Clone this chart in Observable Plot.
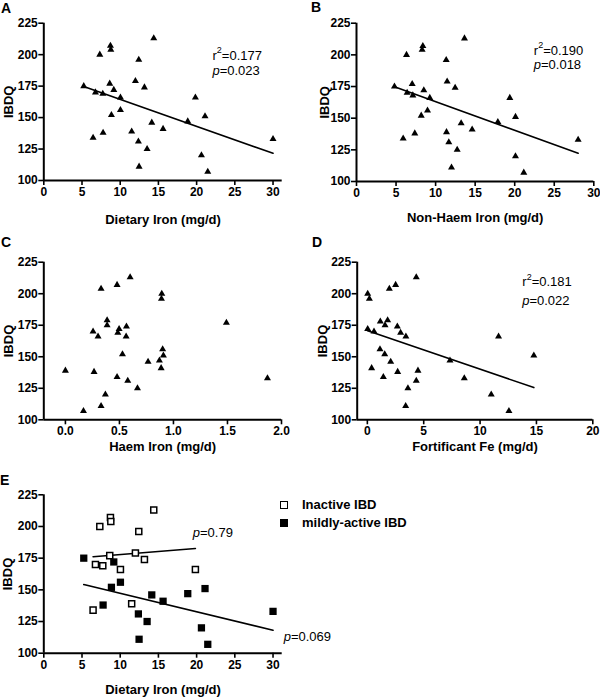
<!DOCTYPE html>
<html><head><meta charset="utf-8">
<script src="https://cdn.jsdelivr.net/npm/d3@7"></script>
<script src="https://cdn.jsdelivr.net/npm/@observablehq/plot@0.6"></script>
<style>
body{margin:0;background:#fff;font-family:"Liberation Sans",Arial,sans-serif;color:#000;}
#root{position:relative;width:600px;height:697px;overflow:hidden;background:#fff;}
.panel{position:absolute;}
.letter{position:absolute;font-weight:bold;font-size:14px;line-height:14px;}
.leg{position:absolute;font-weight:bold;font-size:13px;line-height:13px;white-space:nowrap;}
.sq{position:absolute;box-sizing:border-box;width:8px;height:8px;}
</style></head><body><div id="root"></div>
<script>
// ---- data ----
const ibdqTicks = [100, 125, 150, 175, 200, 225];

// Panel A / E: dietary iron (mg/d) vs IBDQ, with disease activity
const dietaryIron = [5.23, 6.76, 7.72, 7.33, 6.45, 7.76, 8.72, 8.77, 8.63, 9.16, 8.85, 10.03, 10.03, 11.5, 11.99, 12.43, 12.38, 12.47, 13.17, 13.52, 14.13, 14.39, 15.61, 18.84, 19.84, 21.1, 20.63, 21.46, 30.0];
const ibdqDietary = [175, 170, 169, 200, 134, 138, 207, 204, 177, 172, 152, 166, 156, 139, 179, 196, 131, 111, 174, 125, 146, 213, 141, 147, 166, 151, 120, 107, 133];
const activity = ["m","i","i","i","i","m","i","i","i","m","m","i","m","i","i","i","m","m","i","m","m","i","m","m","i","m","m","m","m"];
const activityLabels = {i: "Inactive IBD", m: "mildly-active IBD"};

// Panel B: non-haem iron
const nonHaemIron = [4.8, 6.32, 5.9, 6.4, 7.04, 7.12, 7.37, 8.39, 8.3, 8.51, 8.18, 9.27, 8.98, 11.34, 11.46, 11.38, 11.67, 12.01, 12.47, 12.73, 13.23, 13.65, 14.62, 17.87, 19.38, 20.1, 20.1, 21.15, 28.02];
const ibdqNonHaem = [175, 200, 134, 170, 177, 168, 138, 207, 204, 172, 152, 166, 156, 196, 179, 139, 131, 111, 174, 125, 146, 213, 141, 147, 166, 151, 120, 107, 133];

// Panel C: haem iron
const haemIron = [0.0, 0.167, 0.256, 0.265, 0.302, 0.33, 0.33, 0.37, 0.386, 0.386, 0.478, 0.478, 0.485, 0.497, 0.528, 0.565, 0.562, 0.577, 0.599, 0.667, 0.765, 0.87, 0.886, 0.892, 0.889, 0.9, 0.907, 1.49, 1.87];
const ibdqHaem = [139, 107, 170, 138, 166, 111, 204, 120, 179, 175, 134, 207, 169, 172, 152, 174, 166, 131, 213, 125, 146, 147, 141, 200, 196, 156, 151, 177, 133];

// Panel D: fortificant iron
const fortificantFe = [0.03, 0.18, 0.03, 0.59, 0.38, 1.15, 1.12, 1.57, 1.54, 1.8, 1.42, 1.95, 2.07, 2.51, 2.66, 2.69, 2.95, 3.42, 3.4, 3.6, 4.34, 4.34, 4.49, 7.33, 8.6, 10.99, 11.64, 12.56, 14.77];
const ibdqFortificant = [200, 196, 172, 170, 141, 178, 156, 175, 152, 179, 134, 204, 146, 207, 174, 138, 169, 166, 111, 125, 131, 213, 139, 147, 133, 120, 166, 107, 151];

// statistics text
const statsA = {r2: "0.177", p: "0.023"};
const statsB = {r2: "0.190", p: "0.018"};
const statsD = {r2: "0.181", p: "0.022"};
const statsE = {inactive: "0.79", active: "0.069"};

// ---- helpers ----
const FONT = "Liberation Sans, Arial, Helvetica, sans-serif";
const root = document.getElementById("root");

function table(xs, ys) { return xs.map((x, i) => ({x, y: ys[i]})); }

function statText(x, yR, yP, s) {
  const base = {textAnchor: "start", lineAnchor: "middle", fontSize: 13, fontWeight: "normal"};
  const marks = [];
  if (s.r2 != null) {
    marks.push(Plot.text(["r"], {x: () => x, y: () => yR, ...base}));
    marks.push(Plot.text(["2"], {x: () => x, y: () => yR, ...base, fontSize: 9, dx: 4.4, dy: -5}));
    marks.push(Plot.text([`=${s.r2}`], {x: () => x, y: () => yR, ...base, dx: 9.4}));
  }
  marks.push(Plot.text(["p"], {x: () => x, y: () => yP, ...base, fontStyle: "italic"}));
  marks.push(Plot.text([`=${s.p}`], {x: () => x, y: () => yP, ...base, dx: 7.2}));
  return marks;
}

function panel({left, top, width, height, margin, xDomain, xTicks, xFormat, xLabel, labelDy, yLabelDx, marks}) {
  const p = Plot.plot({
    width, height,
    marginTop: margin[0], marginRight: margin[1], marginBottom: margin[2], marginLeft: margin[3],
    style: {fontFamily: FONT, fontSize: "12px", fontWeight: "bold", color: "black", background: "white", overflow: "visible"},
    x: {domain: xDomain, label: null},
    y: {domain: [100, 225], label: null},
    marks: [
      Plot.axisX({ticks: xTicks, tickFormat: xFormat, tickSize: 5, tickPadding: 2, strokeWidth: 1.6, fontWeight: "bold", fontSize: 12, label: null}),
      Plot.axisY({ticks: ibdqTicks, tickSize: 5, tickPadding: 1, strokeWidth: 1.6, fontWeight: "bold", fontSize: 12, label: null}),
      Plot.ruleY([100], {strokeWidth: 2}),
      Plot.ruleX([xDomain[0]], {strokeWidth: 2}),
      Plot.text([xLabel], {frameAnchor: "bottom", lineAnchor: "middle", textAnchor: "middle", dy: labelDy, fontSize: 13, fontWeight: "bold"}),
      Plot.text(["IBDQ"], {frameAnchor: "left", lineAnchor: "middle", textAnchor: "middle", dx: yLabelDx, rotate: -90, fontSize: 13, fontWeight: "bold"}),
      ...marks
    ]
  });
  p.classList.add("panel");
  p.style.left = left + "px";
  p.style.top = top + "px";
  root.appendChild(p);
}

function letter(t, x, y) {
  const d = document.createElement("div");
  d.className = "letter"; d.textContent = t;
  d.style.left = x + "px"; d.style.top = y + "px";
  root.appendChild(d);
}

const tri = {symbol: "triangle", r: 2.6, fill: "black", stroke: "none"};
const tick5 = d3.range(0, 31, 5);

// A
const dataA = table(dietaryIron, ibdqDietary);
panel({left: 0, top: 0, width: 300, height: 230, margin: [22.7, 18.3, 50, 43.3],
  xDomain: [0, 31.2], xTicks: tick5, xFormat: d3.format("d"), xLabel: "Dietary Iron (mg/d)", labelDy: 39, yLabelDx: -35,
  marks: [
    Plot.linearRegressionY(dataA, {x: "x", y: "y", ci: 0, stroke: "black", strokeWidth: 1.6}),
    Plot.dot(dataA, {x: "x", y: "y", ...tri}),
    ...statText(22.07, 199.3, 186.9, statsA)
  ]});

// B
const dataB = table(nonHaemIron, ibdqNonHaem);
panel({left: 300, top: 0, width: 300, height: 230, margin: [22.7, 6.7, 49, 56],
  xDomain: [0, 30], xTicks: tick5, xFormat: d3.format("d"), xLabel: "Non-Haem Iron (mg/d)", labelDy: 36, yLabelDx: -32,
  marks: [
    Plot.linearRegressionY(dataB, {x: "x", y: "y", ci: 0, stroke: "black", strokeWidth: 1.6}),
    Plot.dot(dataB, {x: "x", y: "y", ...tri}),
    ...statText(22.41, 203.4, 192.1, statsB)
  ]});

// C
const dataC = table(haemIron, ibdqHaem);
panel({left: 0, top: 230, width: 300, height: 230, margin: [31.7, 19, 40.7, 43.3],
  xDomain: [-0.2, 2.0], xTicks: [0, 0.5, 1, 1.5, 2], xFormat: d3.format(".1f"), xLabel: "Haem Iron (mg/d)", labelDy: 27, yLabelDx: -35,
  marks: [
    Plot.dot(dataC, {x: "x", y: "y", ...tri})
  ]});

// D
const dataD = table(fortificantFe, ibdqFortificant);
panel({left: 300, top: 230, width: 300, height: 230, margin: [31.7, 7.7, 40.7, 56.7],
  xDomain: [-0.9, 20], xTicks: [0, 5, 10, 15, 20], xFormat: d3.format("d"), xLabel: "Fortificant Fe (mg/d)", labelDy: 27, yLabelDx: -34,
  marks: [
    Plot.linearRegressionY(dataD, {x: "x", y: "y", ci: 0, stroke: "black", strokeWidth: 1.6}),
    Plot.dot(dataD, {x: "x", y: "y", ...tri}),
    ...statText(13.74, 209.1, 194.6, statsD)
  ]});

// E
const dataE = dietaryIron.map((x, i) => ({x, y: ibdqDietary[i], s: activity[i]}));
const inactive = dataE.filter(d => d.s === "i");
const active = dataE.filter(d => d.s === "m");
panel({left: 0, top: 460, width: 400, height: 237, margin: [34.3, 118.3, 44.3, 43.3],
  xDomain: [0, 31.2], xTicks: tick5, xFormat: d3.format("d"), xLabel: "Dietary Iron (mg/d)", labelDy: 37, yLabelDx: -36,
  marks: [
    Plot.linearRegressionY(inactive, {x: "x", y: "y", ci: 0, stroke: "black", strokeWidth: 1.6}),
    Plot.linearRegressionY(active, {x: "x", y: "y", ci: 0, stroke: "black", strokeWidth: 1.6}),
    Plot.dot(active, {x: "x", y: "y", symbol: "square", r: 4.1, fill: "black", stroke: "none"}),
    Plot.dot(inactive, {x: "x", y: "y", symbol: "square", r: 3.4, fill: "white", stroke: "black", strokeWidth: 1.5}),
    ...statText(19.5, null, 194.7, {p: statsE.inactive}),
    ...statText(31.4, null, 113.2, {p: statsE.active})
  ]});

// panel letters
letter("A", 1, 1);
letter("B", 311, 0);
letter("C", 1, 235);
letter("D", 312, 235);
letter("E", 0, 473);

// legend for E
function legendItem(label, filled, y) {
  const s = document.createElement("div");
  s.className = "sq";
  s.style.left = "279.5px"; s.style.top = (y - 4) + "px";
  s.style.border = filled ? "none" : "1.5px solid black";
  s.style.background = filled ? "black" : "white";
  root.appendChild(s);
  const t = document.createElement("div");
  t.className = "leg"; t.textContent = label;
  t.style.left = "302px"; t.style.top = (y - 7) + "px";
  root.appendChild(t);
}
legendItem(activityLabels.i, false, 505);
legendItem(activityLabels.m, true, 523.3);
</script>
</body></html>
